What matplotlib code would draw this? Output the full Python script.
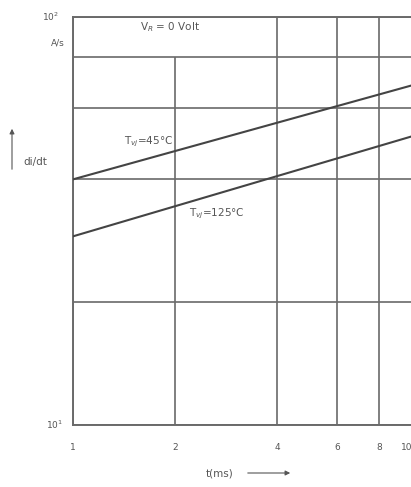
import matplotlib
matplotlib.use("Agg")
import matplotlib.pyplot as plt

# Data (log-log straight lines)
t_ms = [1, 10]
didt_45 = [40, 68]
didt_125 = [29, 51]
x_ticks = [1, 2, 4, 6, 8, 10]
x_tick_labels = ["1", "2", "4", "6", "8", "10"]
y_grid = [10, 20, 40, 60, 80, 100]

W, H = 411, 487
fig = plt.figure(figsize=(W / 100, H / 100), dpi=100)
fig.patch.set_facecolor("white")

left, right, top, bottom = 73, 412, 17, 425
ax = fig.add_axes([left / W, (H - bottom) / H, (right - left) / W, (bottom - top) / H])
ax.set_xscale("log")
ax.set_yscale("log")
ax.set_xlim(1, 10)
ax.set_ylim(10, 100)

gc = "#6a6a6a"
for xv in x_ticks:
    if xv == 2:
        # this gridline stops below the "V_R = 0 Volt" strip
        ax.vlines(xv, y_grid[0], y_grid[-2], color=gc, lw=1.2, zorder=1)
    else:
        ax.axvline(xv, color=gc, lw=1.2, zorder=1)
for yv in y_grid:
    ax.axhline(yv, color=gc, lw=1.2, zorder=1)
for s in ax.spines.values():
    s.set_color(gc)
    s.set_linewidth(1.4)

ax.plot(t_ms, didt_45, color="#444444", lw=1.5, zorder=3)
ax.plot(t_ms, didt_125, color="#444444", lw=1.5, zorder=3)

ax.set_xticks([])
ax.set_yticks([])
ax.xaxis.set_minor_locator(matplotlib.ticker.NullLocator())
ax.yaxis.set_minor_locator(matplotlib.ticker.NullLocator())

tc = "#555555"
fs = 6.5
fa = 7.5
for xv, lab in zip(x_ticks, x_tick_labels):
    ax.text(xv, -0.056, lab, transform=ax.get_xaxis_transform(),
            ha="right" if xv == 10 else "center", va="center",
            fontsize=fs, color=tc, clip_on=False)

ax.text(-0.04, 1.0, r"10$^2$", transform=ax.transAxes, ha="right", va="center", fontsize=fs, color=tc)
ax.text(-0.025, 0.937, "A/s", transform=ax.transAxes, ha="right", va="center", fontsize=fs, color=tc)
ax.text(-0.03, 0.0, r"10$^1$", transform=ax.transAxes, ha="right", va="center", fontsize=fs, color=tc)

ax.text(1.93, 94.5, r"V$_R$ = 0 Volt", ha="center", va="center", fontsize=fa, color=tc)
ax.text(1.97, 47.5, r"T$_{vj}$=45°C", ha="right", va="bottom", fontsize=fa, color=tc)
ax.text(2.2, 33, r"T$_{vj}$=125°C", ha="left", va="center", fontsize=fa, color=tc)

# axis labels with arrows (figure pixel coords)
def fx(px):
    return px / W

def fy(py):
    return 1 - py / H

fig.text(fx(23), fy(162), "di/dt", ha="left", va="center", fontsize=fa, color=tc)
fig.add_artist(matplotlib.patches.FancyArrowPatch((fx(12), fy(172)), (fx(12), fy(126)),
               transform=fig.transFigure, arrowstyle="-|>", mutation_scale=7, color="#555555", lw=0.8))
fig.text(fx(206), fy(473), "t(ms)", ha="left", va="center", fontsize=fa, color=tc)
fig.add_artist(matplotlib.patches.FancyArrowPatch((fx(245), fy(473)), (fx(293), fy(473)),
               transform=fig.transFigure, arrowstyle="-|>", mutation_scale=7, color="#555555", lw=0.8))

fig.savefig("out.png", dpi=100, facecolor="white")
